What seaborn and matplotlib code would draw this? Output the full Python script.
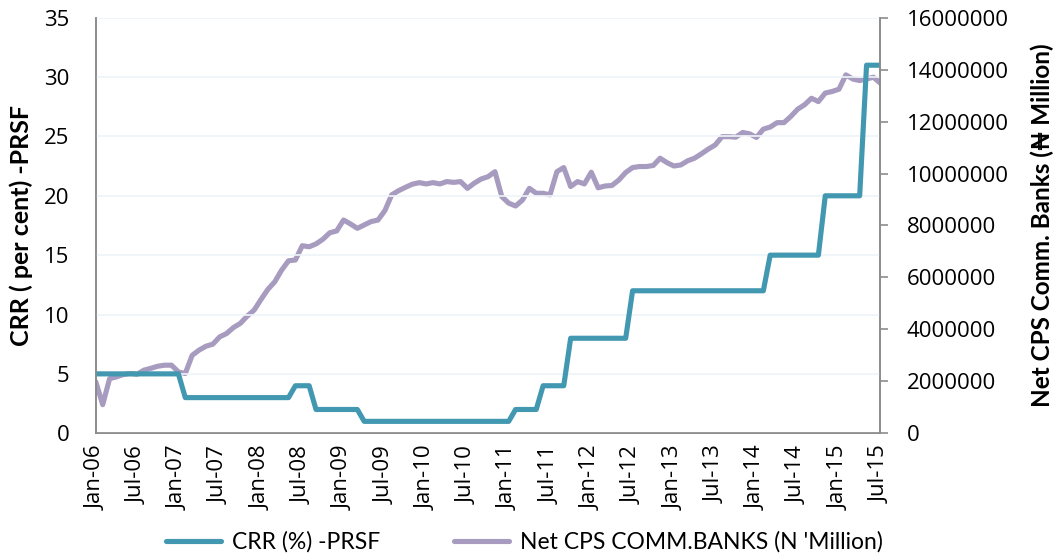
import numpy as np
import pandas as pd
import matplotlib
matplotlib.use("Agg")
import matplotlib.pyplot as plt
import seaborn as sns
from matplotlib.ticker import FuncFormatter

# monthly data Jan-06 .. Jul-15
months = pd.date_range("2006-01-01", periods=115, freq="MS")

# CRR (%) on public sector funds
crr = ([5] * 13 + [3] * 16 + [4] * 3 + [2] * 7 + [1] * 22 + [2] * 4 + [4] * 4
       + [8] * 9 + [12] * 20 + [15] * 8 + [20] * 6 + [31] * 3)

# Net CPS comm. banks, in millions of the axis unit (x 1,000,000)
cps_mn = [1.98, 1.10, 2.10, 2.17, 2.26, 2.30, 2.27, 2.43, 2.50, 2.58, 2.62, 2.62,
          2.36, 2.30, 3.00, 3.20, 3.35, 3.43, 3.71, 3.84, 4.07, 4.23, 4.51, 4.74,
          5.15, 5.54, 5.83, 6.28, 6.64, 6.67, 7.22, 7.18, 7.29, 7.47, 7.72, 7.79,
          8.21, 8.06, 7.89, 8.02, 8.15, 8.21, 8.57, 9.18, 9.34, 9.47, 9.59, 9.65,
          9.60, 9.65, 9.60, 9.69, 9.66, 9.69, 9.43, 9.63, 9.79, 9.88, 10.07, 9.11,
          8.86, 8.75, 8.98, 9.43, 9.24, 9.24, 9.18, 10.07, 10.23, 9.50, 9.69, 9.60,
          10.05, 9.45, 9.52, 9.54, 9.75, 10.04, 10.23, 10.27, 10.27, 10.31, 10.59, 10.42,
          10.29, 10.33, 10.49, 10.59, 10.76, 10.94, 11.10, 11.42, 11.42, 11.40, 11.58, 11.53,
          11.39, 11.71, 11.79, 11.96, 11.96, 12.20, 12.48, 12.65, 12.90, 12.77, 13.10, 13.16,
          13.25, 13.80, 13.64, 13.58, 13.64, 13.71, 13.48]

tick_labels = [m.strftime("%b-%y") for m in months[::6]]

df = pd.DataFrame({"idx": np.arange(len(months)), "crr": crr,
                   "cps": np.array(cps_mn) * 1e6})

sns.set_style("white")
plt.rcParams["font.family"] = ["Lato", "DejaVu Sans"]
plt.rcParams["text.color"] = "black"
plt.rcParams["axes.labelcolor"] = "black"

teal = "#4298B0"
lilac = "#A79BC0"
grey = "#8C8C8C"
tick_font = {"family": ["Open Sans", "DejaVu Sans"], "size": 16}

fig, ax = plt.subplots(figsize=(10.53, 5.54), dpi=100)
fig.subplots_adjust(left=0.091, right=0.836, top=0.968, bottom=0.218)
ax2 = ax.twinx()

sns.lineplot(data=df, x="idx", y="crr", ax=ax, color=teal, linewidth=3.7,
             label="CRR (%) -PRSF", legend=False)
sns.lineplot(data=df, x="idx", y="cps", ax=ax2, color=lilac, linewidth=3.7,
             label="Net CPS COMM.BANKS (N 'Million)", legend=False)

# teal line above the lilac one
ax.set_zorder(ax2.get_zorder() + 1)
ax.patch.set_visible(False)

ax.set_xlim(0, len(months) - 1)
ax.set_ylim(0, 35)
ax.set_yticks(np.arange(0, 36, 5))
ax2.set_ylim(0, 16e6)
ax2.set_yticks(np.arange(0, 16e6 + 1, 2e6))
ax2.yaxis.set_major_formatter(FuncFormatter(lambda v, p: f"{int(v)}"))

ax.set_xticks(np.arange(0, len(months), 6))
ax.set_xticklabels(tick_labels, rotation=90)

ax2.yaxis.grid(False)
ax.yaxis.grid(True, color="#EEF3F8", linewidth=1.2)
ax.set_axisbelow(True)

for a in (ax, ax2):
    a.spines["top"].set_visible(False)
    for s in ("left", "bottom", "right"):
        a.spines[s].set_color(grey)
        a.spines[s].set_linewidth(1.2)
    a.set_xlabel("")

ax.tick_params(axis="x", length=0, pad=9, labelcolor="black")
ax.tick_params(axis="y", length=0, pad=19, labelcolor="black")
ax2.tick_params(axis="y", length=6, width=1.2, color=grey, direction="out",
                pad=13, labelcolor="black")
for lab in ax.get_xticklabels() + ax.get_yticklabels() + ax2.get_yticklabels():
    lab.set_fontfamily(tick_font["family"])
    lab.set_fontsize(tick_font["size"])

ax.set_ylabel("CRR ( per cent) -PRSF", fontsize=18, fontweight="bold")
ax2.set_ylabel("Net CPS Comm. Banks (\u20a6 Million)", fontsize=17.5,
               fontweight="bold")
ax.yaxis.set_label_coords(-0.080, 0.5)
ax2.yaxis.set_label_coords(1.191, 0.5)

h1, l1 = ax.get_legend_handles_labels()
h2, l2 = ax2.get_legend_handles_labels()
fig.legend(h1 + h2, l1 + l2, loc="lower center", bbox_to_anchor=(0.498, -0.035),
           ncol=2, frameon=False, fontsize=16.5, handlelength=2.4,
           columnspacing=3.2, handletextpad=0.5)

fig.savefig("out.png", dpi=100)
